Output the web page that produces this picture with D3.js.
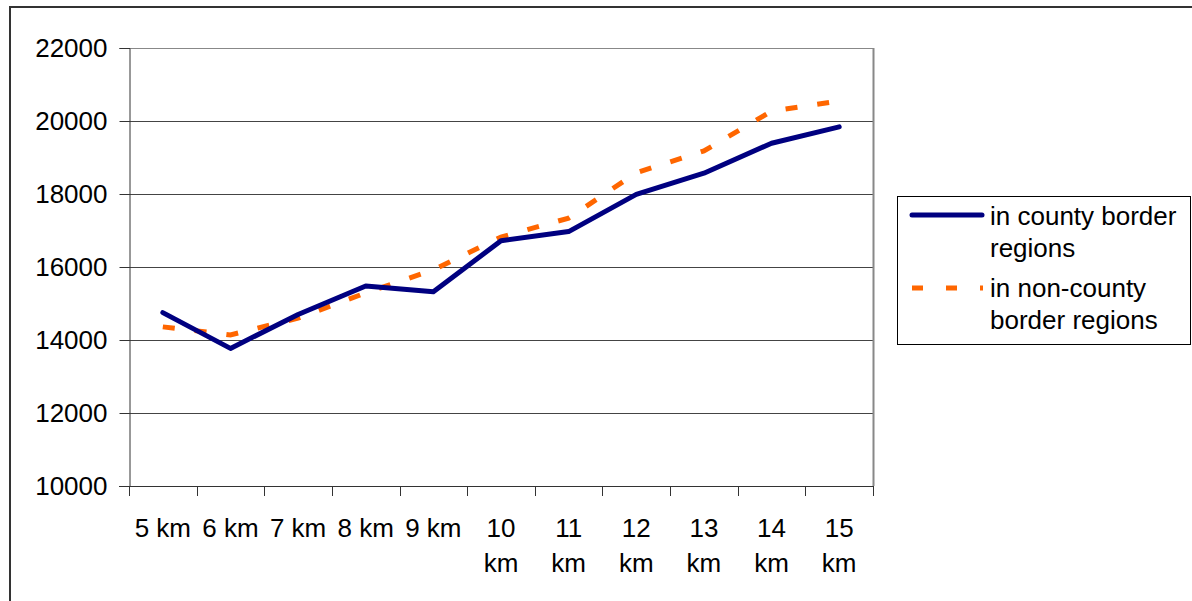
<!DOCTYPE html>
<html>
<head>
<meta charset="utf-8">
<script src="https://cdn.jsdelivr.net/npm/d3@7"></script>
<style>
  body { margin: 0; background: #fff; }
  svg { display: block; font-family: "Liberation Sans", Arial, sans-serif; }
</style>
</head>
<body>
<svg width="1192" height="601"></svg>
<script>
// data
var categories = ["5 km", "6 km", "7 km", "8 km", "9 km", "10 km", "11 km", "12 km", "13 km", "14 km", "15 km"];
var countyBorder = [14750, 13770, 14700, 15480, 15320, 16720, 16970, 17990, 18570, 19390, 19840];
var nonCountyBorder = [14360, 14140, 14600, 15290, 15920, 16820, 17340, 18580, 19180, 20270, 20550];
var yTicks = [10000, 12000, 14000, 16000, 18000, 20000, 22000];
var seriesNames = ["in county border regions", "in non-county border regions"];

var svg = d3.select("svg");

// outer frame (left + top only visible)
svg.append("path")
    .attr("d", "M10,601 V7 H1192")
    .attr("fill", "none")
    .attr("stroke", "#333")
    .attr("stroke-width", 2);

var pLeft = 129, pRight = 873, pTop = 48, pBottom = 486;

var x = d3.scaleBand().domain(categories).range([pLeft, pRight]).padding(0);
var y = d3.scaleLinear().domain([10000, 22000]).range([pBottom, pTop]);

// gridlines
svg.append("g").selectAll("line")
    .data(yTicks.slice(1))
    .enter().append("line")
    .attr("x1", pLeft).attr("x2", pRight)
    .attr("y1", function(d) { return Math.round(y(d)) + 0.5; })
    .attr("y2", function(d) { return Math.round(y(d)) + 0.5; })
    .attr("stroke", function(d) { return d === 22000 ? "#888" : "#444"; })
    .attr("stroke-width", 1);

// plot area right edge
svg.append("line")
    .attr("x1", pRight + 0.5).attr("x2", pRight + 0.5)
    .attr("y1", pTop).attr("y2", pBottom)
    .attr("stroke", "#888")
    .attr("stroke-width", 2);

// y axis
var yAxis = svg.append("g")
    .attr("transform", "translate(" + (pLeft + 0.5) + ",0)")
    .call(d3.axisLeft(y).tickValues(yTicks).tickSize(10).tickPadding(12).tickFormat(d3.format("d")));
yAxis.select(".domain").attr("stroke", "#333");
yAxis.selectAll(".tick line").attr("stroke", "#333");
yAxis.selectAll("text").attr("font-size", 26).attr("fill", "#000")
    .attr("font-family", "Liberation Sans, Arial, sans-serif");

// x axis: ticks at band boundaries
var xAxisG = svg.append("g");
xAxisG.append("line")
    .attr("x1", pLeft - 10).attr("x2", pRight)
    .attr("y1", pBottom + 0.5).attr("y2", pBottom + 0.5)
    .attr("stroke", "#333");
var bounds = categories.map(function(c) { return x(c); }).concat([pRight]);
xAxisG.selectAll(".xt")
    .data(bounds)
    .enter().append("line")
    .attr("x1", function(d) { return Math.round(d) + 0.5; })
    .attr("x2", function(d) { return Math.round(d) + 0.5; })
    .attr("y1", pBottom).attr("y2", pBottom + 10)
    .attr("stroke", "#333");

// x labels, wrapped when wider than the band
categories.forEach(function(c) {
    var cx = x(c) + x.bandwidth() / 2;
    var t = svg.append("text")
        .attr("x", cx).attr("y", 537)
        .attr("text-anchor", "middle")
        .attr("font-size", 26)
        .attr("fill", "#000")
        .text(c);
    if (t.node().getComputedTextLength() > x.bandwidth() - 2) {
        var parts = c.split(" ");
        t.text(null);
        parts.forEach(function(p, i) {
            t.append("tspan").attr("x", cx).attr("y", 537 + i * 35).text(p);
        });
    }
});

var line = d3.line()
    .x(function(d, i) { return x(categories[i]) + x.bandwidth() / 2; })
    .y(function(d) { return y(d); });

svg.append("path")
    .datum(nonCountyBorder)
    .attr("d", line)
    .attr("fill", "none")
    .attr("stroke", "#ff6600")
    .attr("stroke-width", 5)
    .attr("stroke-dasharray", "12,20");

svg.append("path")
    .datum(countyBorder)
    .attr("d", line)
    .attr("fill", "none")
    .attr("stroke", "#000080")
    .attr("stroke-width", 5)
    .attr("stroke-linejoin", "round")
    .attr("stroke-linecap", "round");

// legend
var lg = svg.append("g");
lg.append("rect")
    .attr("x", 897.5).attr("y", 196.5)
    .attr("width", 293).attr("height", 148)
    .attr("fill", "#fff")
    .attr("stroke", "#000");

lg.append("line")
    .attr("x1", 912).attr("x2", 982).attr("y1", 215).attr("y2", 215)
    .attr("stroke", "#000080").attr("stroke-width", 5).attr("stroke-linecap", "round");
lg.append("line")
    .attr("x1", 912).attr("x2", 983).attr("y1", 288).attr("y2", 288)
    .attr("stroke", "#ff6600").attr("stroke-width", 5).attr("stroke-dasharray", "11,23");

var legendLines = [["in county border", "regions"], ["in non-county", "border regions"]];
legendLines.forEach(function(ls, k) {
    var t = lg.append("text").attr("font-size", 26).attr("fill", "#000")
        .attr("aria-label", seriesNames[k]);
    ls.forEach(function(s, i) {
        t.append("tspan").attr("x", 990).attr("y", (k === 0 ? 225 : 297) + i * 32).text(s);
    });
});
</script>
</body>
</html>
